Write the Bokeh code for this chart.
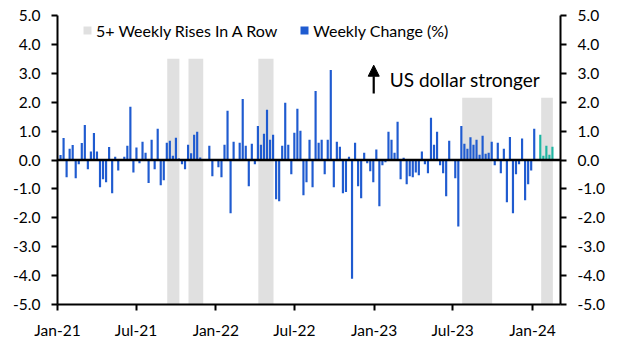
import pandas as pd
from datetime import datetime
from bokeh.plotting import figure
from bokeh.models import (ColumnDataSource, Range1d, LinearAxis, FixedTicker, MonthsTicker,
                          DatetimeTickFormatter, PrintfTickFormatter, Span, Arrow, NormalHead,
                          Label, Legend, LegendItem)
from bokeh.embed import file_html
from bokeh.resources import INLINE

# ---------------- data ----------------
first_week = "2021-01-08"
weekly_change = [
    0.17, 0.76, -0.60, 0.39, 0.52, -0.63, -0.15, 0.59, 1.21, -0.32,
    0.29, 0.93, 0.29, -0.94, -0.67, -0.77, 0.45, -1.15, 0.11, -0.36,
    0.02, 0.11, 0.49, 1.84, -0.43, 0.43, -0.11, 0.63, 0.25, -0.80,
    0.70, -0.32, 1.08, -0.87, -0.70, 0.60, 0.67, 0.15, 0.77, 0.05,
    -0.15, -0.32, 0.53, 0.23, 0.87, 0.98, 0.09, 0.03, -0.02, 0.49,
    -0.56, 0.02, -0.25, -0.60, 0.53, 1.70, -1.84, 0.63, 0.01, 0.60,
    2.11, 0.49, -0.91, 0.56, -0.15, 1.18, 0.53, 0.91, 1.74, 0.70,
    0.87, -1.36, -1.43, 0.49, 1.98, 0.53, -0.49, 0.94, 1.77, 1.01,
    -1.22, -0.77, 0.70, -0.94, 2.39, 0.60, 0.70, -0.49, 0.70, 3.11,
    -0.94, 0.63, 0.46, -1.15, -1.11, 0.11, -4.11, 0.60, -0.91, -1.32,
    0.25, -0.11, -0.39, -0.77, 0.36, -1.60, -0.18, -0.08, 0.98, 0.70,
    0.25, 1.32, -0.67, 0.08, -0.84, -0.56, -0.60, -0.43, -0.53, 0.29,
    -0.15, -0.46, 1.46, 0.53, 0.98, -0.18, -0.46, -1.25, 0.67, -0.02,
    -0.63, -2.30, 1.18, 0.56, 0.39, 0.79, 0.53, 0.70, 0.18, 0.84,
    0.22, 0.25, 0.63, -0.18, 0.60, -0.46, 0.39, -1.46, 0.80, -1.84,
    -0.49, -0.15, 0.74, -1.39, -0.84, -0.36, 1.08, 0.01,
    0.87, 0.15, 0.49, 0.18, 0.46,
]
n_latest = 5  # latest weeks highlighted in teal

band_start = ["2021-09-11", "2021-10-30", "2022-04-09", "2023-07-23", "2024-01-21"]
band_end = ["2021-10-09", "2021-12-03", "2022-05-14", "2023-09-30", "2024-02-17"]
band_top = [3.5, 3.5, 3.5, 2.15, 2.15]

y_ticks = [-5, -4, -3, -2, -1, 0, 1, 2, 3, 4, 5]

BLUE = "#1F5BD0"
TEAL = "#1FB5A2"
GREY = "#E0E0E0"
FONT = "Lato"

weeks = pd.date_range(first_week, periods=len(weekly_change), freq="7D")
colors = [BLUE] * (len(weekly_change) - n_latest) + [TEAL] * n_latest
bar_src = ColumnDataSource(dict(x=weeks, top=weekly_change, color=colors))
band_src = ColumnDataSource(dict(
    left=pd.to_datetime(band_start), right=pd.to_datetime(band_end),
    bottom=[-5] * len(band_top), top=band_top))

# ---------------- figure ----------------
p = figure(width=621, height=355, x_axis_type="datetime",
           x_range=Range1d(datetime(2021, 1, 1), datetime(2024, 3, 5, 14)),
           y_range=Range1d(-5, 5),
           output_backend="svg", toolbar_location=None,
           min_border_left=57, min_border_right=61, min_border_top=15, min_border_bottom=51)
p.outline_line_color = None
p.xgrid.visible = False
p.ygrid.visible = False
p.background_fill_color = "white"
p.border_fill_color = "white"

bands = p.quad(left="left", right="right", bottom="bottom", top="top", source=band_src,
               fill_color=GREY, line_color=None)
bars = p.vbar(x="x", top="top", bottom=0, width=5 * 86400000, source=bar_src,
              fill_color="color", line_color=None)

p.add_layout(Span(location=0, dimension="width", line_color="black", line_width=2.5))

def style_axis(ax):
    ax.axis_line_color = "black"
    ax.axis_line_width = 2
    ax.major_tick_line_color = "black"
    ax.major_tick_line_width = 2
    ax.major_tick_out = 6
    ax.major_tick_in = 0
    ax.minor_tick_line_color = None
    ax.major_label_text_font = FONT
    ax.major_label_text_font_size = "15.5px"
    ax.major_label_text_color = "black"
    ax.major_label_standoff = 11

yl = p.yaxis[0]
yl.ticker = FixedTicker(ticks=y_ticks)
yl.formatter = PrintfTickFormatter(format="%.1f")
style_axis(yl)

yr = LinearAxis(ticker=FixedTicker(ticks=y_ticks), formatter=PrintfTickFormatter(format="%.1f"))
style_axis(yr)
p.add_layout(yr, "right")

xa = p.xaxis[0]
xa.ticker = MonthsTicker(months=[0, 6])
xa.formatter = DatetimeTickFormatter(years="%b-%y", months="%b-%y", days="%b-%y", context=None)
style_axis(xa)
xa.major_label_standoff = 10

# annotation
p.add_layout(Arrow(end=NormalHead(size=11, fill_color="black", line_color="black"),
                   x_start=datetime(2022, 12, 31), y_start=2.3,
                   x_end=datetime(2022, 12, 31), y_end=3.28,
                   line_color="black", line_width=2.2))
p.add_layout(Label(x=datetime(2023, 2, 6), y=2.79, text="US dollar stronger",
                   text_font=FONT, text_font_size="19px", text_color="black",
                   text_baseline="middle"))

legend = Legend(items=[LegendItem(label="5+ Weekly Rises In A Row", renderers=[bands]),
                       LegendItem(label="Weekly Change (%)", renderers=[bars], index=0)],
                orientation="horizontal", location=(25, 264),
                padding=0, margin=0, spacing=22, label_standoff=4,
                glyph_width=10, glyph_height=10, label_height=20,
                label_text_font=FONT, label_text_font_size="16px",
                label_text_color="black",
                border_line_color=None, background_fill_alpha=0)
p.add_layout(legend, "center")

open("out.html", "w").write(file_html(p, INLINE))
